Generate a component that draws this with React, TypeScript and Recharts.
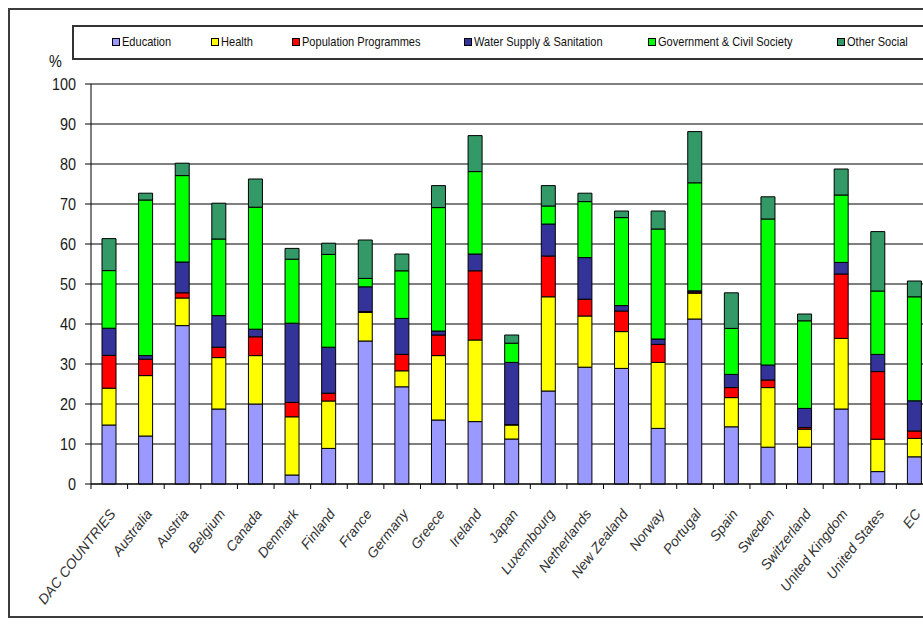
import { BarChart, Bar, XAxis, YAxis, CartesianGrid } from "recharts";

const categories = [
  "DAC COUNTRIES", "Australia", "Austria", "Belgium", "Canada", "Denmark",
  "Finland", "France", "Germany", "Greece", "Ireland", "Japan", "Luxembourg",
  "Netherlands", "New Zealand", "Norway", "Portugal", "Spain", "Sweden",
  "Switzerland", "United Kingdom", "United States", "EC",
];

const education = [14.75, 12.0, 39.6, 18.75, 20.0, 2.25, 8.9, 35.75, 24.3, 16.0, 15.6, 11.25, 23.25, 29.2, 28.9, 13.9, 41.25, 14.3, 9.2, 9.2, 18.75, 3.1, 6.8];
const health = [9.2, 15.1, 6.9, 12.85, 12.1, 14.55, 11.85, 7.15, 4.0, 16.1, 20.4, 3.5, 23.55, 12.8, 9.2, 16.5, 6.45, 7.3, 14.9, 4.5, 17.65, 8.1, 4.6];
const population = [8.2, 4.1, 1.3, 2.6, 4.7, 3.6, 1.95, 0.2, 4.1, 5.15, 17.3, 0.1, 10.2, 4.2, 5.15, 4.5, 0.3, 2.5, 1.9, 0.4, 16.1, 16.9, 1.85];
const water = [6.8, 0.9, 7.7, 7.9, 1.9, 19.8, 11.5, 6.2, 9.0, 1.0, 4.2, 15.55, 8.0, 10.4, 1.35, 1.35, 0.3, 3.3, 3.75, 4.8, 2.9, 4.3, 7.55];
const government = [14.4, 38.9, 21.6, 19.15, 30.5, 16.0, 23.2, 2.1, 11.9, 30.85, 20.6, 4.8, 4.5, 14.0, 22.0, 27.5, 27.0, 11.5, 36.5, 21.9, 16.85, 15.85, 26.0];
const otherSocial = [8.0, 1.7, 3.1, 8.95, 7.05, 2.7, 2.8, 9.6, 4.2, 5.5, 9.0, 2.05, 5.1, 2.1, 1.65, 4.5, 12.8, 8.9, 5.55, 1.7, 6.5, 14.85, 3.95];

const yTicks = [0, 10, 20, 30, 40, 50, 60, 70, 80, 90, 100];

const series = [
  { key: "education", name: "Education", values: education },
  { key: "health", name: "Health", values: health },
  { key: "population", name: "Population Programmes", values: population },
  { key: "water", name: "Water Supply & Sanitation", values: water },
  { key: "government", name: "Government & Civil Society", values: government },
  { key: "other", name: "Other Social", values: otherSocial },
];

const colors: Record<string, string> = {
  education: "#9999FF",
  health: "#FFFF00",
  population: "#FF0000",
  water: "#333399",
  government: "#00FF00",
  other: "#339966",
};

// legend square positions
const legendLeft = [112, 211, 292, 464, 648, 837];

const data = categories.map((name, i) => {
  const row: Record<string, string | number> = { name };
  series.forEach((s) => {
    row[s.key] = s.values[i];
  });
  return row;
});

const sans = '"Liberation Sans", Arial, sans-serif';
const BAND = 842 / categories.length;

function CategoryTick(props: any) {
  const { x, payload } = props;
  const left = x - BAND / 2;
  return (
    <g>
      <line x1={left} y1={484} x2={left} y2={489} stroke="#000" strokeWidth={1} />
      <g transform={`translate(${x + 3},${511})`}>
        <text
          x={0}
          y={0}
          dy="0.35em"
          textAnchor="end"
          transform="rotate(-52)"
          fontFamily={sans}
          fontStyle="italic"
          fontSize={14}
          fill="#333"
        >
          {payload.value}
        </text>
      </g>
    </g>
  );
}

// narrow look of the original's axis numbers
function ValueTick(props: any) {
  const { x, y, payload } = props;
  return (
    <text
      transform={`translate(${x},${y}) scale(0.85,1)`}
      dy="0.36em"
      textAnchor="end"
      fontFamily={sans}
      fontSize={17}
      fill="#1a1a1a"
    >
      {payload.value}
    </text>
  );
}

export default function App() {
  return (
    <div
      style={{
        position: "fixed",
        left: 0,
        top: 0,
        width: 923,
        height: 624,
        overflow: "hidden",
        background: "#fff",
      }}
    >
      <div
        style={{
          position: "absolute",
          left: 8,
          top: 8,
          width: 960,
          height: 610,
          border: "2px solid #3c3c3c",
          boxSizing: "border-box",
        }}
      />
      <div
        style={{
          position: "absolute",
          left: 72,
          top: 25,
          width: 900,
          height: 35,
          border: "2px solid #333",
          boxSizing: "border-box",
          fontFamily: sans,
          fontSize: 13,
          color: "#111",
        }}
      >
        {series.map((s, i) => (
          <div
            key={s.key}
            style={{
              position: "absolute",
              left: legendLeft[i] - 72 - 2,
              top: 7,
              display: "flex",
              alignItems: "center",
              whiteSpace: "nowrap",
            }}
          >
            <span
              style={{
                width: 6,
                height: 6,
                border: "1px solid #000",
                background: colors[s.key],
                marginRight: 2,
              }}
            />
            <span
              style={{
                display: "inline-block",
                transform: "scaleX(0.85)",
                transformOrigin: "left center",
              }}
            >
              {s.name}
            </span>
          </div>
        ))}
      </div>
      <div
        style={{
          position: "absolute",
          left: 49,
          top: 52,
          fontFamily: sans,
          fontSize: 17,
          color: "#111",
          transform: "scaleX(0.85)",
          transformOrigin: "left top",
        }}
      >
        %
      </div>
      <div style={{ position: "absolute", left: 0, top: 0 }}>
        <BarChart
          width={940}
          height={624}
          data={data}
          margin={{ top: 84, right: 7, bottom: 20, left: 41 }}
          barSize={14}
        >
          <CartesianGrid vertical={false} stroke="#000" strokeWidth={1} />
          <XAxis
            dataKey="name"
            interval={0}
            height={120}
            tickLine={false}
            axisLine={{ stroke: "#000", strokeWidth: 1 }}
            tick={<CategoryTick />}
          />
          <YAxis
            domain={[0, 100]}
            ticks={yTicks}
            width={50}
            tickSize={6}
            tickMargin={9}
            axisLine={{ stroke: "#000", strokeWidth: 1 }}
            tickLine={{ stroke: "#000" }}
            tick={<ValueTick />}
          />
          {series.map((s) => (
            <Bar
              key={s.key}
              dataKey={s.key}
              name={s.name}
              stackId="a"
              fill={colors[s.key]}
              stroke="#000"
              strokeWidth={1}
              isAnimationActive={false}
            />
          ))}
        </BarChart>
      </div>
    </div>
  );
}
